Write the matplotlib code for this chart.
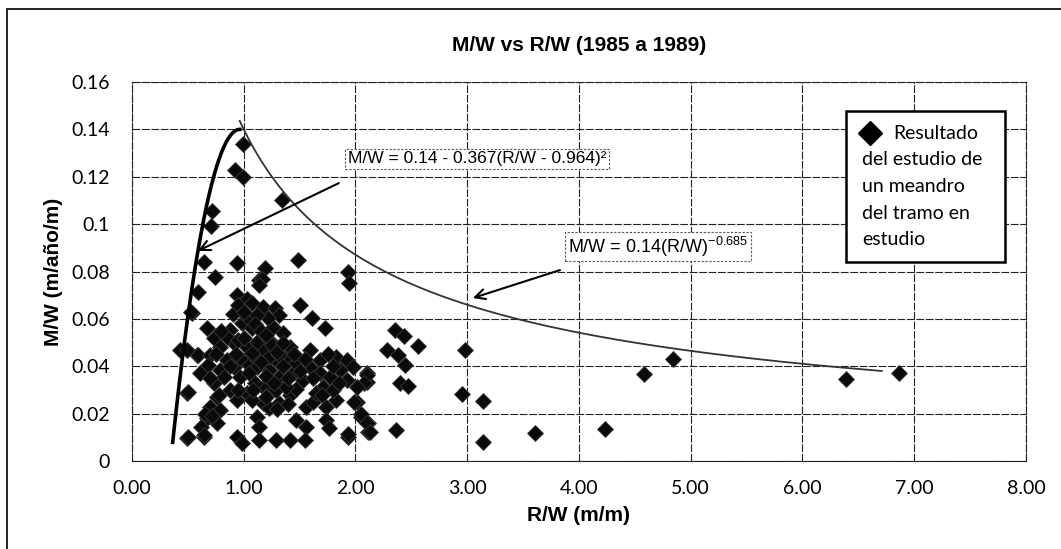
import numpy as np
import matplotlib
matplotlib.use('Agg')
import matplotlib.pyplot as plt
from matplotlib.patches import Rectangle

plt.rcParams['mathtext.fontset'] = 'custom'
plt.rcParams['mathtext.rm'] = 'Liberation Sans'

# Datos del estudio (R/W, M/W)
rw = [6.39, 6.86, 4.84, 4.58, 4.23, 3.61, 3.14, 3.14, 2.95, 2.98,
      2.36, 2.56, 2.35, 2.43, 2.28, 2.38, 2.44, 2.10, 2.10, 2.40,
      2.47, 2.01, 2.05, 2.11, 2.11, 1.93, 1.92,
      0.99, 0.92, 0.995, 1.34, 0.72, 0.71, 0.644, 0.94, 0.74, 1.19,
      1.14, 1.49, 1.93, 1.94, 0.59, 0.54, 0.43, 0.58, 0.49, 0.49, 0.64,
      1.16, 1.14, 0.94, 1.03, 1.07, 1.17, 1.28, 1.32, 1.50, 1.61, 1.73,
      0.53, 0.67, 0.73, 0.88, 0.98, 1.07, 1.17, 1.26, 1.35,
      0.49, 0.59, 0.70, 0.79, 0.91, 1.03, 1.17, 1.29, 1.38,
      0.68, 0.79, 0.91, 1.03, 1.12, 1.23, 1.32, 1.44, 1.59, 1.68, 1.83, 1.92,
      1.59, 1.68, 1.77, 1.86, 1.98, 2.10, 2.08,
      0.50, 0.73, 0.88, 1.03, 1.17, 1.23, 1.32, 1.41, 1.47, 1.56, 1.62, 1.74,
      1.83, 1.99, 2.05, 2.10, 0.70, 0.79, 0.67, 0.76, 0.62, 1.12, 1.14,
      1.47, 1.56, 1.74, 1.76, 1.93, 0.50, 0.64, 0.94, 0.98, 1.14, 1.29,
      1.41, 1.55, 2.13,
      0.85, 0.95, 1.12, 1.23, 1.07, 1.23, 1.32, 0.97, 0.85, 1.12, 0.97,
      1.32, 1.17, 1.23, 1.29, 1.38, 0.82, 0.61, 0.76, 0.94, 1.07, 1.03,
      1.22, 1.12, 1.41, 1.47, 1.53, 1.71, 1.80, 1.92, 2.01, 1.65,
      0.90, 0.95, 1.00, 1.10, 1.15, 1.20, 1.25, 1.30, 1.35, 0.93,
      1.00, 1.05, 1.10, 1.15, 1.20, 1.27, 1.35, 1.40, 0.88, 0.95,
      1.08, 1.20, 1.30, 1.40, 1.45, 1.50, 1.55, 1.62, 1.75, 1.80,
      1.85, 1.70, 0.75, 0.80, 0.70, 0.78, 0.65, 0.72]
mw = [0.0346, 0.0370, 0.0430, 0.0367, 0.0134, 0.0119, 0.0079, 0.0254, 0.0283, 0.0468,
      0.0131, 0.0485, 0.0553, 0.0527, 0.0468, 0.0447, 0.0405, 0.0370, 0.0335, 0.0328,
      0.0316, 0.0250, 0.0187, 0.0159, 0.0124, 0.0103, 0.0419,
      0.1337, 0.1228, 0.1200, 0.1100, 0.1056, 0.0992, 0.0841, 0.0837, 0.0775, 0.0813,
      0.0764, 0.0848, 0.0799, 0.0750, 0.0714, 0.0623, 0.0468, 0.0447, 0.0286, 0.0096, 0.0103,
      0.0770, 0.0743, 0.0700, 0.0686, 0.0665, 0.0651, 0.0644, 0.0616, 0.0658, 0.0602, 0.0560,
      0.0631, 0.0560, 0.0518, 0.0553, 0.0581, 0.0560, 0.0525, 0.0567, 0.0539,
      0.0468, 0.0447, 0.0447, 0.0482, 0.0497, 0.0482, 0.0468, 0.0482, 0.0440,
      0.0405, 0.0384, 0.0398, 0.0412, 0.0426, 0.0384, 0.0412, 0.0370, 0.0468, 0.0426, 0.0440, 0.0426,
      0.0398, 0.0370, 0.0356, 0.0384, 0.0398, 0.0363, 0.0328,
      0.0292, 0.0328, 0.0300, 0.0285, 0.0243, 0.0222, 0.0243, 0.0278, 0.0306, 0.0229, 0.0250, 0.0229,
      0.0257, 0.0250, 0.0200, 0.0159, 0.0229, 0.0215, 0.0180, 0.0159, 0.0145, 0.0187, 0.0145,
      0.0173, 0.0145, 0.0173, 0.0138, 0.0116, 0.0103, 0.0110, 0.0103, 0.0074, 0.0089, 0.0089,
      0.0089, 0.0089, 0.0124,
      0.0525, 0.0510, 0.0504, 0.0510, 0.0454, 0.0440, 0.0447, 0.0433, 0.0426, 0.0398, 0.0356,
      0.0356, 0.0314, 0.0285, 0.0300, 0.0314, 0.0356, 0.0370, 0.0271, 0.0257, 0.0257, 0.0609,
      0.0602, 0.0616, 0.0482, 0.0412, 0.0342, 0.0314, 0.0300, 0.0342, 0.0314, 0.0285,
      0.0620, 0.0660, 0.0630, 0.0580, 0.0550, 0.0530, 0.0490, 0.0460, 0.0500, 0.0450,
      0.0520, 0.0370, 0.0330, 0.0420, 0.0360, 0.0330, 0.0400, 0.0350, 0.0400, 0.0300,
      0.0300, 0.0270, 0.0220, 0.0240, 0.0450, 0.0380, 0.0430, 0.0350, 0.0450, 0.0400,
      0.0330, 0.0280, 0.0450, 0.0550, 0.0350, 0.0280, 0.0200, 0.0190]

# Curvas envolventes
a_par, b_par, c_par = 0.14, 0.367, 0.964
x_par_min = 0.364
x_pot_max = 6.71
expo = -0.685

x_ticks = [0, 1, 2, 3, 4, 5, 6, 7, 8]
y_ticks = [0, 0.02, 0.04, 0.06, 0.08, 0.1, 0.12, 0.14, 0.16]
y_tick_labels = ['0', '0.02', '0.04', '0.06', '0.08', '0.1', '0.12', '0.14', '0.16']
legend_lines = ['Resultado', 'del estudio de', 'un meandro', 'del tramo en', 'estudio']

fig = plt.figure(figsize=(10.61, 5.49), dpi=100)
ax = fig.add_axes([0.1244, 0.1603, 0.8426, 0.6903])

# borde del area del grafico
fig.patches.append(Rectangle((0.0066, -0.02), 1.1, 1.0036, transform=fig.transFigure,
                             fill=False, ec='black', lw=1.2))

xp = np.linspace(x_par_min, c_par, 200)
ax.plot(xp, a_par - b_par * (xp - c_par) ** 2, color='black', lw=2.6, zorder=4)
xw = np.linspace(c_par, x_pot_max, 300)
ax.plot(xw, a_par * xw ** expo, color='#333333', lw=1.3, zorder=4)

ax.plot(rw, mw, 'D', color='#0a0a0a', ms=8.5, mec='#3a3a3a', mew=0.6, zorder=3)

ax.set_xlim(0, 8)
ax.set_ylim(0, 0.16)
ax.set_xticks(x_ticks)
ax.set_xticklabels(['%.2f' % v for v in x_ticks])
ax.set_yticks(y_ticks)
ax.set_yticklabels(y_tick_labels)
ax.tick_params(length=0, labelsize=14)
ax.tick_params(axis='x', pad=14)
ax.tick_params(axis='y', pad=16)
for lab in ax.get_xticklabels() + ax.get_yticklabels():
    lab.set_family('Lato')
ax.grid(True, color='#222222', lw=0.8, ls=(0, (7, 1.5)))
ax.set_axisbelow(True)
for s in ax.spines.values():
    s.set_linewidth(0.8)
    s.set_linestyle((0, (7, 1.5)))
    s.set_color('#222222')
ax.spines['bottom'].set_linestyle('-')

ax.set_title('M/W vs R/W (1985 a 1989)', fontsize=15, fontweight='bold',
             family='Liberation Sans', pad=22)
ax.set_xlabel('R/W (m/m)', fontsize=15, fontweight='bold',
              family='Liberation Sans', labelpad=6)
ax.set_ylabel('M/W (m/año/m)', fontsize=15, fontweight='bold',
              family='Liberation Sans', labelpad=6)

# ecuaciones con flechas
box = dict(boxstyle='square,pad=0.15', fc='white', ec='#555555', lw=0.8, ls=(0, (2, 1.5)))
arrow = dict(arrowstyle='->', color='black', lw=1.5, mutation_scale=18, shrinkA=0, shrinkB=0)
ax.annotate('', xy=(0.59, 0.0887), xytext=(1.85, 0.1173), arrowprops=arrow, zorder=5)
ax.text(1.93, 0.1275, 'M/W = 0.14 - 0.367(R/W - 0.964)²', fontsize=12.5,
        family='Liberation Sans', va='center', ha='left', bbox=box, zorder=6)
ax.annotate('', xy=(3.05, 0.0688), xytext=(3.83, 0.0806), arrowprops=arrow, zorder=5)
ax.text(3.9, 0.0905, r'M/W = 0.14(R/W)$^{\mathregular{-0.685}}$', fontsize=13,
        family='Liberation Sans', va='center', ha='left', bbox=box, zorder=6)

# leyenda
ax.add_patch(Rectangle((0.7987, 0.525), 0.1778, 0.3985, transform=ax.transAxes,
                       fc='white', ec='black', lw=1.8, zorder=7))
ax.plot([0.8255], [0.865], 'D', color='black', ms=12, transform=ax.transAxes,
        zorder=8, clip_on=False)
for i, line in enumerate(legend_lines):
    ax.text(0.851 if i == 0 else 0.8166, 0.865 - 0.0704 * i, line,
            transform=ax.transAxes, fontsize=14, family='Lato',
            va='center', ha='left', zorder=8)

fig.savefig('out.png', dpi=100)
